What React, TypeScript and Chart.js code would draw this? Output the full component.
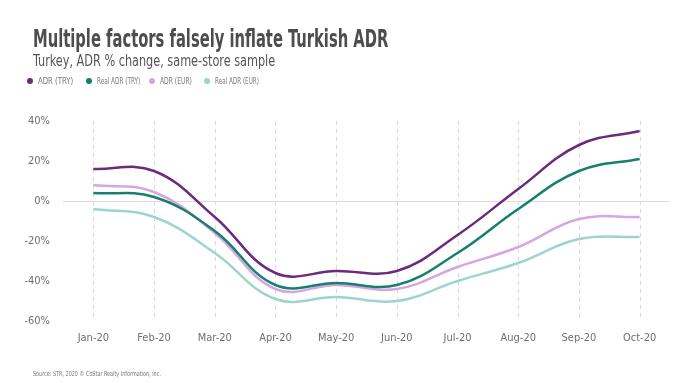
import React, { useEffect, useLayoutEffect, useRef } from "react";
import { Chart, registerables } from "chart.js";

Chart.register(...registerables);

const categories = ["Jan-20", "Feb-20", "Mar-20", "Apr-20", "May-20", "Jun-20", "Jul-20", "Aug-20", "Sep-20", "Oct-20"];
const adrTry = [16, 15, -8, -36, -35, -35, -17, 6, 28, 35];
const realAdrTry = [4, 2, -15, -42, -41, -42, -26, -4, 15, 21];
const adrEur = [8, 4.5, -16, -44, -42, -44, -33, -23, -9, -8];
const realAdrEur = [-4, -8, -26, -49, -48, -50, -40, -31, -19, -18];
const seriesNames = ["ADR (TRY)", "Real ADR (TRY)", "ADR (EUR)", "Real ADR (EUR)"];
const seriesColors = ["#6b2a7c", "#187f6e", "#d6a6e0", "#9fd4cc"];
const titleText = "Multiple factors falsely inflate Turkish ADR";
const subtitleText = "Turkey, ADR % change, same-store sample";
const sourceText = "Source: STR, 2020 © CoStar Realty Information, Inc.";

const legendDotX = [30, 89, 152, 207];
const legendTextW = [35, 43, 32, 44];

const NARROW = "'Liberation Sans Narrow', 'DejaVu Sans Condensed', 'Roboto Condensed', 'Liberation Sans', sans-serif";

function FitText(props: { text: string; width: number; style: React.CSSProperties }) {
  const ref = useRef<HTMLSpanElement>(null);
  useLayoutEffect(() => {
    const el = ref.current;
    if (!el) return;
    el.style.transform = "none";
    const w = el.offsetWidth;
    if (w > 0) el.style.transform = `scaleX(${props.width / w})`;
  });
  return (
    <span ref={ref} style={{ display: "inline-block", whiteSpace: "nowrap", transformOrigin: "left center", ...props.style }}>
      {props.text}
    </span>
  );
}

export default function App() {
  const canvasRef = useRef<HTMLCanvasElement>(null);

  useEffect(() => {
    if (!canvasRef.current) return;
    const data = [adrTry, realAdrTry, adrEur, realAdrEur];
    const chart = new Chart(canvasRef.current, {
      type: "line",
      data: {
        labels: categories,
        datasets: data.map((d, i) => ({
          label: seriesNames[i],
          data: d,
          borderColor: seriesColors[i],
          backgroundColor: seriesColors[i],
          borderWidth: 2.5,
          pointRadius: 0,
          tension: 0.4,
          fill: false,
        })),
      },
      options: {
        responsive: false,
        animation: false,
        layout: { padding: { top: 121, left: 10, right: 30, bottom: 0 } },
        plugins: {
          legend: { display: false },
          title: { display: false },
          tooltip: { enabled: false },
        },
        scales: {
          x: {
            offset: true,
            border: { display: false },
            grid: { display: false, offset: false, drawTicks: false },
            ticks: {
              color: "#6f6f6f",
              padding: 11,
              font: { family: NARROW, size: 11 },
              maxRotation: 0,
            },
            afterFit: (s: any) => {
              s.height = 62;
            },
          } as any,
          y: {
            min: -60,
            max: 40,
            border: { display: false },
            grid: {
              drawTicks: false,
              color: (ctx: any) => (ctx.tick && ctx.tick.value === 0 ? "#dcdcdc" : "rgba(0,0,0,0)"),
              lineWidth: 1,
            },
            ticks: {
              stepSize: 20,
              color: "#6f6f6f",
              padding: 13,
              font: { family: NARROW, size: 11 },
              callback: (v: any) => `${v}%`,
            },
            afterFit: (s: any) => {
              s.width = 53;
            },
          },
        },
      },
      plugins: [
        {
          id: "dashGrid",
          beforeDatasetsDraw: (c: any) => {
            const xs = c.scales.x;
            const ctx = c.ctx;
            ctx.save();
            ctx.strokeStyle = "#d9d9d9";
            ctx.lineWidth = 1;
            ctx.setLineDash([4, 4]);
            for (let i = 0; i < categories.length; i++) {
              const x = Math.round(xs.getPixelForValue(i)) + 0.5;
              ctx.beginPath();
              ctx.moveTo(x, c.chartArea.top);
              ctx.lineTo(x, c.chartArea.bottom);
              ctx.stroke();
            }
            ctx.restore();
          },
        },
      ],
    });
    return () => chart.destroy();
  }, []);

  return (
    <div style={{ position: "absolute", left: 0, top: 0, width: 700, height: 383, background: "#fff", overflow: "hidden" }}>
      <canvas ref={canvasRef} width={700} height={383} style={{ position: "absolute", left: 0, top: 0 }} />
      <div style={{ position: "absolute", left: 33, top: 24, lineHeight: "30px" }}>
        <FitText text={titleText} width={355} style={{ fontFamily: NARROW, fontWeight: "bold", fontSize: 24, color: "#4d4d4d" }} />
      </div>
      <div style={{ position: "absolute", left: 33, top: 52, lineHeight: "18px" }}>
        <FitText text={subtitleText} width={242} style={{ fontFamily: NARROW, fontSize: 16, color: "#555" }} />
      </div>
      {seriesNames.map((n, i) => (
        <div key={n} style={{ position: "absolute", left: legendDotX[i] - 3, top: 75, height: 12, display: "flex", alignItems: "center" }}>
          <span style={{ width: 6, height: 6, borderRadius: "50%", background: seriesColors[i], display: "inline-block", marginRight: 5 }} />
          <FitText text={n} width={legendTextW[i]} style={{ fontFamily: NARROW, fontSize: 9, color: "#777" }} />
        </div>
      ))}
      <div style={{ position: "absolute", left: 33, top: 366, lineHeight: "10px" }}>
        <FitText text={sourceText} width={128} style={{ fontFamily: NARROW, fontSize: 7, color: "#777" }} />
      </div>
    </div>
  );
}
